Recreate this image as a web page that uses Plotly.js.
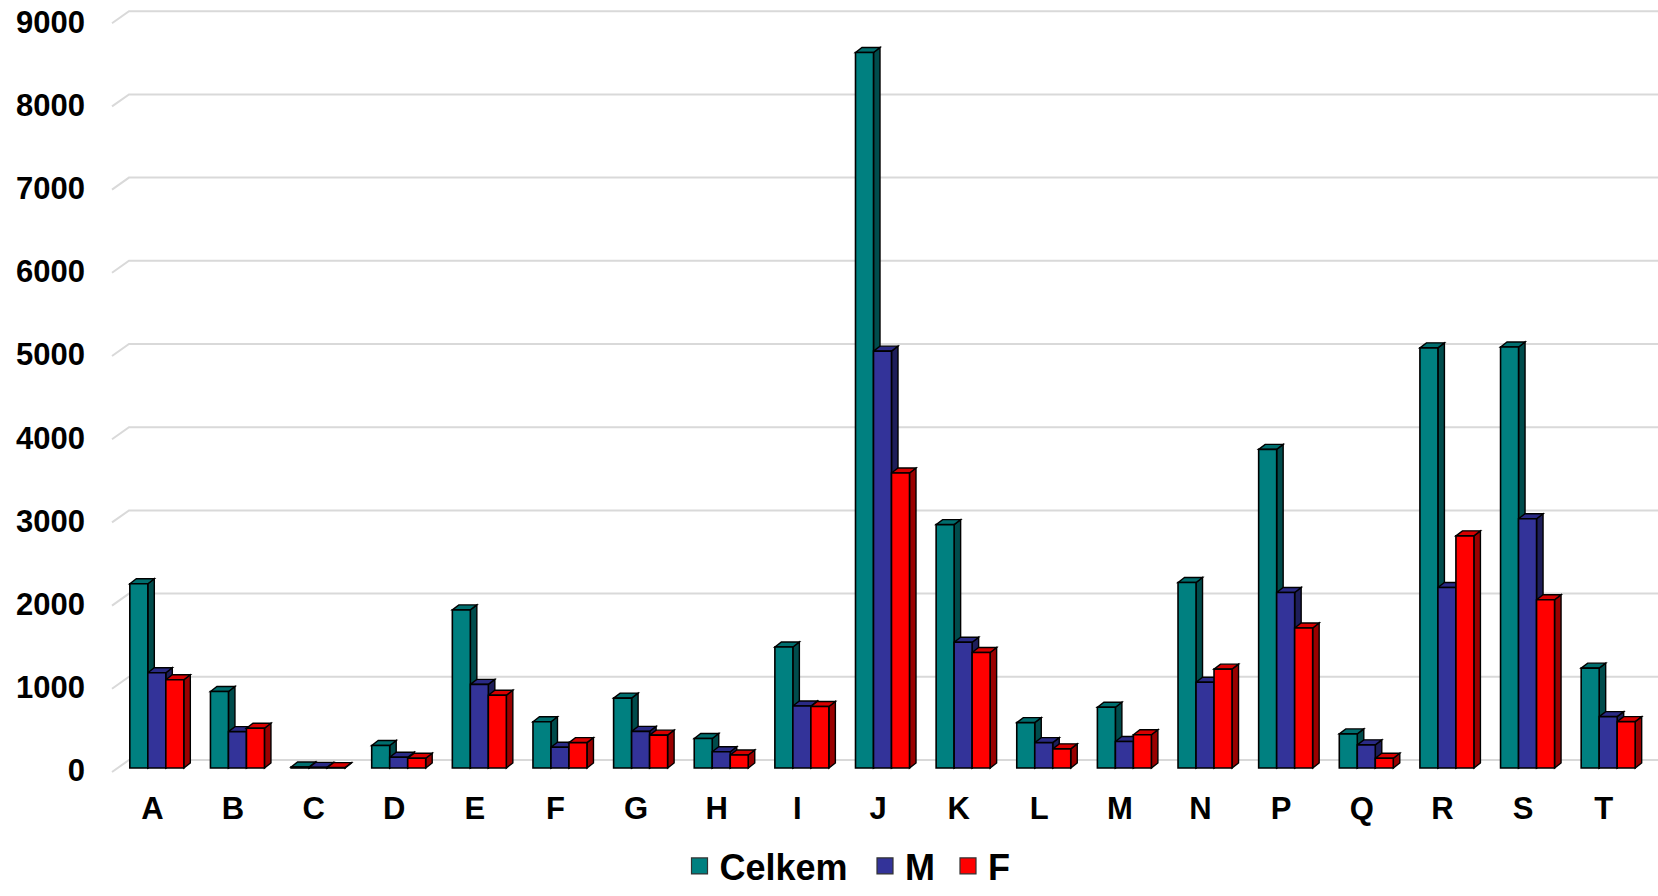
<!DOCTYPE html>
<html>
<head>
<meta charset="utf-8">
<script src="https://cdn.plot.ly/plotly-3.0.1.min.js"></script>
<style>html,body{margin:0;padding:0;background:#fff;}#chart{width:1658px;height:896px;}</style>
</head>
<body>
<div id="chart"></div>
<script>
// ---- data ----
const categories = ['A','B','C','D','E','F','G','H','I','J','K','L','M','N','P','Q','R','S','T'];
const celkem = [2215, 920, 12, 270, 1900, 555, 840, 355, 1455, 8600, 2925, 545, 730, 2230, 3830, 410, 5050, 5060, 1200];
const muzi   = [1145, 437, 8, 130, 1005, 250, 440, 195, 745, 5010, 1512, 305, 318, 1030, 2110, 278, 2170, 2995, 618];
const zeny   = [1060, 478, 5, 118, 875, 305, 395, 157, 740, 3545, 1388, 230, 400, 1188, 1683, 118, 2790, 2022, 557];
const seriesNames = ['Celkem', 'M', 'F'];
const yTickValues = [0, 1000, 2000, 3000, 4000, 5000, 6000, 7000, 8000, 9000];
const yTickLabels = ['0', '1000', '2000', '3000', '4000', '5000', '6000', '7000', '8000', '9000'];

// ---- styling / geometry ----
const W = 1658, H = 896;
const M = {l: 112, r: 14, t: 10, b: 124};
const plotW = W - M.l - M.r, plotH = H - M.t - M.b;
const pxPerCat = plotW / categories.length;
const pxPerUnit = 0.0832;               // vertical scale
const baseLift = 4;                      // bars sit 4px above front floor
const labelLift = 1.5;                   // tick labels sit slightly above front floor line
const r0 = -baseLift / pxPerUnit;
const r1 = r0 + plotH / pxPerUnit;
const barPx = 18;
const barW = barPx / pxPerCat;
const groupStart = -22.5 / pxPerCat;
const depthX = 6.5, depthY = 5;         // bar depth
const wallX = 17, wallY = 12;           // wall depth
const frontCols = ['#008080', '#333399', '#FF0000'];
const topCols   = ['#006e6e', '#2a2a85', '#d80000'];
const sideCols  = ['#004c4c', '#1e1e5a', '#9a0000'];
const font = {family: 'Liberation Sans, Arial, sans-serif', weight: 700, color: '#000'};
const seriesVals = [celkem, muzi, zeny];
const legendIds = ['legend', 'legend2', 'legend3'];
const legendX = [679.5, 865, 948];       // legend entry positions (px)
const legendY = -7 / H;                  // slightly below container bottom

const traces = [];
seriesVals.forEach((vals, j) => {
  traces.push({
    type: 'bar', x: categories, y: vals, name: seriesNames[j],
    width: barW, offset: groupStart + j * barW,
    marker: {color: frontCols[j], line: {color: '#000', width: 1.6}},
    showlegend: false, hoverinfo: 'skip'
  });
});
seriesVals.forEach((vals, j) => {
  traces.push({
    type: 'scatter', mode: 'markers', x: [null], y: [null], name: seriesNames[j],
    legend: legendIds[j],
    marker: {symbol: 'square', size: 16, color: frontCols[j], line: {color: '#333', width: 1.2}},
    showlegend: true, hoverinfo: 'skip'
  });
});

const shapes = [];
// back wall gridlines
yTickValues.forEach(v => {
  shapes.push({
    type: 'path', layer: 'below', xref: 'paper', yref: 'paper',
    xsizemode: 'pixel', ysizemode: 'pixel', xanchor: 0, yanchor: (v * pxPerUnit) / plotH,
    path: `M0,0 L${wallX},${wallY} L${W - M.l},${wallY}`,
    line: {color: '#d9d9d9', width: 2}
  });
});
// 3D faces of bars
categories.forEach((c, i) => {
  seriesVals.forEach((vals, j) => {
    const v = vals[i];
    const hpx = v * pxPerUnit;
    const xa = i + groupStart + (j + 1) * barW;
    const common = {type: 'path', layer: 'between', xref: 'x', yref: 'y',
      xsizemode: 'pixel', ysizemode: 'pixel', xanchor: xa, yanchor: v};
    shapes.push(Object.assign({}, common, {
      path: `M0,0 L${depthX},${depthY} L${depthX},${depthY - hpx} L0,${-hpx} Z`,
      fillcolor: sideCols[j], line: {color: '#000', width: 1.4}
    }));
    shapes.push(Object.assign({}, common, {
      path: `M${-barPx},0 L${-barPx + depthX},${depthY} L${depthX},${depthY} L0,0 Z`,
      fillcolor: topCols[j], line: {color: '#000', width: 1.4}
    }));
  });
});

const layout = {
  width: W, height: H, margin: Object.assign({autoexpand: false}, M),
  paper_bgcolor: '#fff', plot_bgcolor: 'rgba(0,0,0,0)',
  barmode: 'overlay', hovermode: false,
  xaxis: {type: 'category', range: [-0.5, categories.length - 0.5], showgrid: false, zeroline: false,
    showline: false, ticks: '', tickfont: Object.assign({size: 31}, font), ticklabelstandoff: 15, fixedrange: true,
    automargin: false},
  yaxis: {range: [r0, r1], showgrid: false, zeroline: false, showline: false, ticks: '',
    tickmode: 'array', tickvals: yTickValues.map(v => v + r0 + labelLift / pxPerUnit), ticktext: yTickLabels,
    tickfont: Object.assign({size: 31}, font), ticklabelstandoff: 26, fixedrange: true, automargin: false},
  shapes: shapes,
  showlegend: true
};
legendIds.forEach((id, j) => {
  layout[id] = {orientation: 'h', xref: 'container', yref: 'container', x: legendX[j] / W, xanchor: 'left',
    y: legendY, yanchor: 'bottom',
    font: Object.assign({size: 36}, font), bgcolor: 'rgba(0,0,0,0)', itemclick: false, itemdoubleclick: false};
});

Plotly.newPlot('chart', traces, layout, {staticPlot: true, displayModeBar: false});
</script>
</body>
</html>
